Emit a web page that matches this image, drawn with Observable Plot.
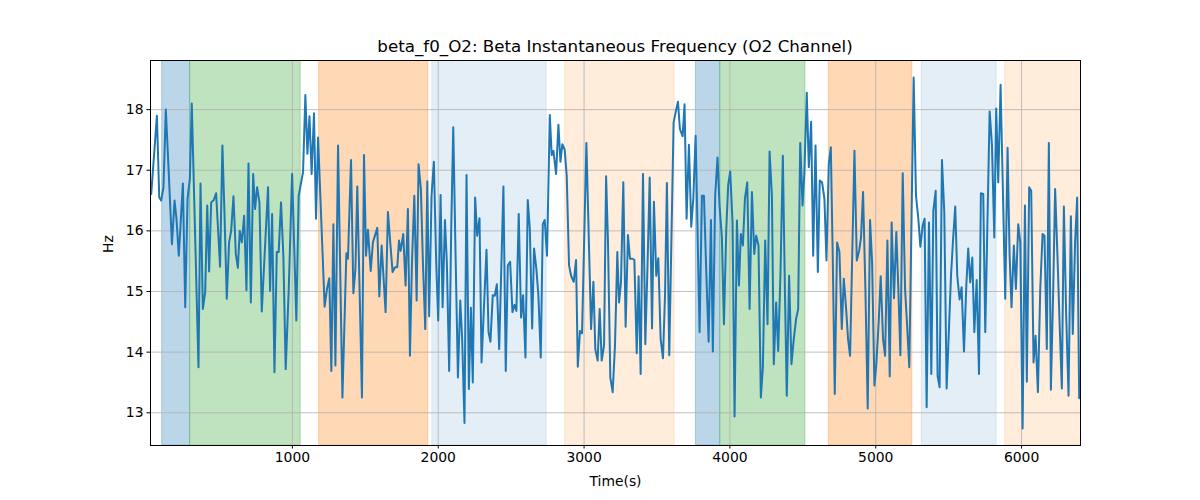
<!DOCTYPE html>
<html>
<head>
<meta charset="utf-8">
<script src="https://cdn.jsdelivr.net/npm/d3@7"></script>
<script src="https://cdn.jsdelivr.net/npm/@observablehq/plot@0.6"></script>
<style>
  html, body { margin: 0; padding: 0; background: #fff; }
  #wrap { width: 1200px; height: 500px; font-family: "DejaVu Sans", sans-serif; }
  #title { height: 50px; box-sizing: border-box; padding-top: 37px; padding-left: 150px; width: 1080px;
           text-align: center; font-size: 16.7px; line-height: 18px; color: #000; white-space: nowrap; }
</style>
</head>
<body>
<div id="wrap">
  <div id="title">beta_f0_O2: Beta Instantaneous Frequency (O2 Channel)</div>
  <div id="chart"></div>
</div>
<script>
// ---- data ----
const times = [
  32,71,87,100,116,132,151,174,192,205,221,249,265,281,297,310,356,370,386,402,416,429,443,461,477,504,520,534,550,566,580,596,612,626,639,653,669,685,699,715,731,744,758,774,790,
  833,847,861,877,893,906,922,938,954,975,998,1027,1043,1073,1089,1103,1117,1132,1148,1162,1176,1221,1237,1253,1267,1281,1295,1313,1343,1370,1381,1402,1418,1432,1445,1477,1491,1505,1518,1537,1552,1582,1596,1612,
  1639,1655,1671,1687,1703,1719,1731,1742,1760,1776,1792,1806,1820,1836,1852,1865,1881,1895,1911,1925,1938,1954,1970,1986,2000,2016,2030,2046,2059,2075,2089,2103,2119,2135,2151,2164,2180,2194,2210,2224,2237,2253,2267,2283,2297,2315,2331,2345,2358,2374,2388,2402,2418,
  2447,2463,2477,2493,2509,2523,2536,2552,2568,2582,2598,2614,2628,2644,2657,2673,2687,2703,2717,2730,2746,2765,2778,2790,2808,2824,2838,2851,2867,2881,2897,2911,2929,2945,2957,2972,2986,3016,3048,3064,3077,3093,3107,3121,3137,3151,3164,3180,3196,3212,3228,
  3240,3253,3269,3285,3301,3315,3331,3345,3361,3374,3388,3404,3420,3436,3450,3466,3479,3495,3509,3525,3541,3555,3568,3584,3614,3630,3644,3657,3676,3689,3703,3719,3735,3749,3765,3792,3808,3822,3838,3854,3870,3883,3899,3915,3929,3945,3959,3975,3988,4002,4018,4032,
  4048,4062,4075,4089,4103,4119,4135,4151,4167,4180,4196,4212,4226,4242,4258,4272,4288,4301,4317,4331,4347,4363,4377,4390,4406,4422,4438,4454,4468,4482,4498,4511,4527,4541,4557,4571,4587,4603,4616,4632,4648,4662,4678,4692,4705,4719,4735,4751,4767,4781,4797,4810,4824,
  4854,4870,4886,4899,4913,4929,4945,4961,4975,4991,5004,5020,5034,5050,5064,5080,5096,5109,5125,5141,5155,5169,5185,5201,5214,5230,5260,5276,5292,5306,5322,5335,5349,5365,5381,5395,5411,5424,5438,5454,5470,5486,5502,5516,5529,5545,5559,5575,5589,5605,5621,5634,
  5648,5662,5676,5692,5708,5721,5737,5751,5781,5797,5813,5826,5840,5856,5888,5904,5918,5931,5947,5961,5977,5991,6007,6023,6036,6052,6066,6082,6096,6112,6128,6144,6157,6173,6187,6201,6217,6230,6246,6262,6276,6290,6306,6322,6338,6351,6367,6381,6395
];
const values = [
  16.61,17.9,16.55,16.5,16.72,18.0,17.02,15.78,16.5,16.2,15.59,16.78,14.74,16.53,16.86,18.1,13.75,16.78,14.71,14.99,16.42,15.33,16.47,16.51,16.62,15.41,17.41,16.31,14.88,15.81,16.0,16.57,15.62,15.39,16.0,15.81,16.25,15.02,17.11,14.82,16.94,16.36,16.72,16.47,14.67,
  16.72,15.01,16.28,13.67,15.65,15.65,16.47,15.59,13.72,15.04,16.94,14.52,16.58,16.97,18.24,17.27,17.89,16.94,17.94,16.2,17.54,14.75,15.04,15.22,13.69,16.11,13.78,17.41,13.25,15.63,15.54,17.17,14.97,15.37,16.73,13.25,17.25,15.59,16.02,15.34,15.81,16.05,14.92,15.76,
  14.66,16.31,15.81,15.32,15.4,15.4,15.84,15.67,15.95,15.1,16.36,13.94,15.48,16.58,14.85,17.1,16.69,15.48,14.38,16.82,14.59,16.58,17.14,15.48,14.52,16.59,14.74,16.18,15.48,13.69,16.03,17.71,15.59,13.58,14.85,14.22,12.83,16.92,13.39,14.73,13.5,16.55,15.92,16.21,13.83,14.82,15.69,14.33,14.17,14.94,14.93,15.12,14.05,
  16.73,13.69,15.43,15.49,14.66,14.78,14.68,16.28,14.57,14.94,13.91,16.51,16.03,14.39,15.71,15.37,14.93,13.91,16.11,16.18,15.59,17.91,17.25,17.32,16.94,17.75,17.14,17.43,17.34,16.91,15.43,15.26,15.16,15.52,13.76,14.35,14.31,17.45,14.38,15.16,14.05,13.86,14.71,13.86,14.11,16.9,15.81,13.58,13.34,14.11,15.65,
  14.82,15.15,16.8,14.42,15.93,15.54,15.54,15.52,13.98,15.25,13.64,16.94,14.13,15.52,16.88,14.39,16.48,15.26,15.55,14.22,13.9,14.93,16.79,13.95,17.79,17.98,18.13,17.68,17.56,18.09,16.2,17.42,16.07,16.53,17.57,14.33,16.58,16.58,15.32,14.17,16.18,14.01,16.58,17.21,16.42,15.89,14.46,16.02,16.75,16.98,16.14,12.94,
  16.17,15.1,15.95,15.76,16.53,16.8,14.71,16.64,15.62,15.92,15.76,13.25,13.75,15.84,14.46,17.31,16.58,13.8,14.82,14.02,15.32,17.24,15.04,13.28,15.26,13.8,14.22,14.55,14.71,17.45,16.42,16.97,18.28,17.05,17.8,15.59,17.41,15.32,16.83,16.8,16.53,15.51,17.1,17.38,15.59,13.31,15.81,15.65,14.38,15.21,14.71,14.22,13.94,
  17.32,15.51,15.67,15.89,16.64,15.04,13.07,16.18,15.48,13.45,13.8,14.49,15.25,14.22,13.94,15.84,13.6,16.14,14.89,15.98,15.04,13.95,16.95,15.04,14.49,13.75,18.53,16.58,16.2,15.74,16.09,16.2,13.09,16.14,13.64,16.33,16.66,13.61,13.42,17.17,16.31,13.4,14.38,15.26,15.81,16.4,15.26,14.87,15.07,14.01,15.1,15.71,
  15.15,15.56,14.33,15.19,13.64,16.62,16.61,14.33,17.97,17.41,15.89,18.02,16.8,18.41,14.88,17.37,15.59,14.74,15.76,15.04,16.11,15.81,12.74,16.42,13.51,16.72,16.66,13.83,14.27,13.34,15.04,15.95,15.92,14.05,17.45,13.38,15.04,16.69,15.59,14.38,13.4,16.4,14.6,13.28,16.24,14.3,15.81,16.55,13.24
];

const bandStart = [107, 299, 1183, 1959, 2870, 3767, 3934, 4678, 5315, 5888];
const bandEnd   = [299, 1057, 1932, 2744, 3621, 3934, 4518, 5251, 5829, 6420];
const bandColor = ["#1f77b4","#2ca02c","#ff7f0e","#1f77b4","#ff7f0e","#1f77b4","#2ca02c","#ff7f0e","#1f77b4","#ff7f0e"];
const bandAlpha = [0.3, 0.3, 0.3, 0.12, 0.15, 0.3, 0.3, 0.3, 0.12, 0.15];

const xTicks = [1000, 2000, 3000, 4000, 5000, 6000];
const yTicks = [13, 14, 15, 16, 17, 18];

// ---- build tables ----
const series = times.map((t, i) => ({t, v: values[i]}));
const bands = bandStart.map((s, i) => ({s, e: bandEnd[i], c: bandColor[i], a: bandAlpha[i]}));

const chart = Plot.plot({
  width: 1200,
  height: 450,
  marginTop: 10,
  marginBottom: 55,
  marginLeft: 150,
  marginRight: 120,
  style: {fontFamily: "DejaVu Sans, sans-serif", fontSize: "13.9px", color: "#000", background: "#fff"},
  x: {domain: [27, 6404]},
  y: {domain: [12.46, 18.81]},
  marks: [
    Plot.rect(bands, {x1: "s", x2: "e", fill: d => d.c, fillOpacity: d => d.a,
                      stroke: d => d.c, strokeOpacity: d => d.a, strokeWidth: 1, clip: true}),
    Plot.gridX(xTicks, {stroke: "#b0b0b0", strokeOpacity: 1, strokeWidth: 0.8}),
    Plot.gridY(yTicks, {stroke: "#b0b0b0", strokeOpacity: 1, strokeWidth: 0.8}),
    Plot.line(series, {x: "t", y: "v", stroke: "#1f77b4", strokeWidth: 2, clip: true}),
    Plot.frame({stroke: "#000", strokeWidth: 1}),
    Plot.axisX(xTicks, {tickSize: 3.5, tickPadding: 3.5, label: null, fontSize: 13.9, tickFormat: d => String(d)}),
    Plot.axisY(yTicks, {tickSize: 3.5, tickPadding: 3.5, label: null, fontSize: 13.9, tickFormat: d => String(d)}),
    Plot.text(["Time(s)"], {frameAnchor: "bottom", dy: 36, lineAnchor: "middle", fontSize: 13.9, fill: "#000"}),
    Plot.text(["Hz"], {frameAnchor: "left", dx: -42, rotate: -90, lineAnchor: "middle", fontSize: 13.9, fill: "#000"})
  ]
});
document.getElementById("chart").appendChild(chart);
</script>
</body>
</html>
